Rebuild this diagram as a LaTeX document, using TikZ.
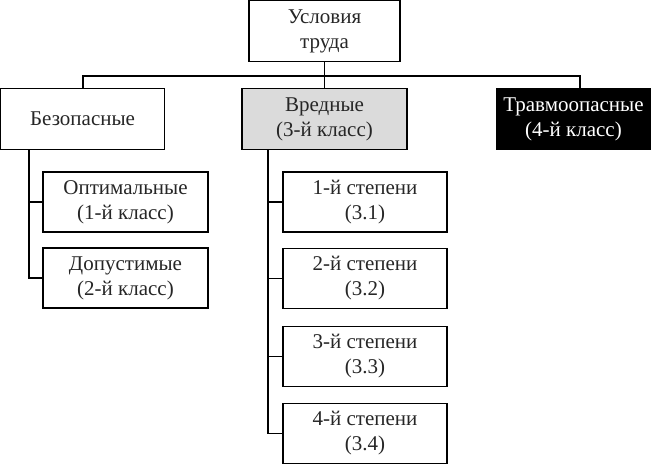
\documentclass[tikz,border=0pt]{standalone}
\usepackage{fontspec}
\setmainfont{Liberation Serif}
\begin{document}
\begin{tikzpicture}[x=1pt,y=-1pt,
  box/.style={draw=black,line width=1.3pt,rectangle,inner sep=0pt,align=center,
    font=\fontsize{21}{25}\selectfont,text=black!85},
  link/.style={draw=black,line width=1.2pt}]
\useasboundingbox (0,0) rectangle (664,465);
\node[box,minimum width=151pt,minimum height=61pt] (top) at (324.5,31) {Условия\\труда};
\node[box,minimum width=164pt,minimum height=61pt] (bezop) at (82.6,119) {Безопасные};
\node[box,minimum width=165pt,minimum height=61pt,fill=black!14] (vred) at (324.5,119) {Вредные\\(3-й класс)};
\node[box,minimum width=153pt,minimum height=61pt,fill=black,text=white] (travmo) at (573.5,119) {Травмоопасные\\(4-й класс)};
\node[box,minimum width=165pt,minimum height=60pt] (opt) at (125.5,202) {Оптимальные\\(1-й класс)};
\node[box,minimum width=165pt,minimum height=60pt] (dop) at (125.5,278) {Допустимые\\(2-й класс)};
\node[box,minimum width=164pt,minimum height=60pt] (d1) at (365,202) {1-й степени\\(3.1)};
\node[box,minimum width=164pt,minimum height=60pt] (d2) at (365,278.5) {2-й степени\\(3.2)};
\node[box,minimum width=164pt,minimum height=60pt] (d3) at (365,356.5) {3-й степени\\(3.3)};
\node[box,minimum width=164pt,minimum height=60pt] (d4) at (365,433.5) {4-й степени\\(3.4)};
\coordinate (bus) at (324.5,76);
\coordinate (busL) at (83,76);
\coordinate (busR) at (580,76);
\coordinate (lt) at (29,160);
\coordinate (rt) at (268,160);
\draw[link] (top.south) -- (bus);
\draw[link] (bus) -- (vred.north);
\draw[link] (bezop.north -| busL) -- (busL) -- (busR) -- (busR |- travmo.north);
\draw[link] (bezop.south -| lt) |- (dop.west);
\draw[link] (lt |- opt.west) -- (opt.west);
\draw[link] (vred.south -| rt) |- (d4.west);
\draw[link] (rt |- d1.west) -- (d1.west);
\draw[link] (rt |- d2.west) -- (d2.west);
\draw[link] (rt |- d3.west) -- (d3.west);
\end{tikzpicture}
\end{document}
